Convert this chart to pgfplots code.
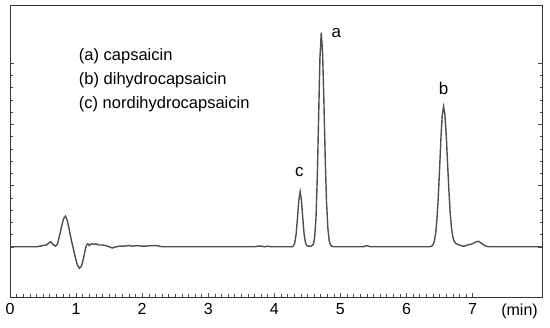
\documentclass[border=0pt]{standalone}
\usepackage{pgfplots}
\pgfplotsset{compat=1.18}
\usepackage{fontspec}
\setmainfont{Liberation Sans}
\definecolor{trace}{RGB}{78,78,78}
\definecolor{tickc}{RGB}{70,70,120}
\begin{document}
\begin{tikzpicture}
\begin{axis}[
    width=532pt, height=292pt, scale only axis,
    xmin=0, xmax=8.05, ymin=-0.82, ymax=3.95,
    axis line style={draw=black!80, line width=0.6pt},
    xtick={0,...,7}, minor x tick num=9,
    ytick={0,1,2,3}, yticklabels={}, minor y tick num=4,
    xtick pos=bottom, ytick pos=both,
    tick align=inside,
    major tick length=4pt, minor tick length=2.5pt,
    every tick/.style={tickc, line width=0.5pt},
    extra x ticks={7.71}, extra x tick labels={(min)},
    extra x tick style={major tick length=0pt},
    /pgf/number format/assume math mode=true,
    xticklabel style={font=\fontsize{16}{19}\selectfont, yshift=-3pt},
    clip=false,
]
\addplot[trace, line width=1.4pt] coordinates {
(0.00,0) (0.40,0) (0.45,0.01) (0.50,0.02) (0.55,0.03) (0.60,0.07) (0.62,0.08)
(0.65,0.04) (0.69,0.01) (0.72,0.05) (0.75,0.18) (0.78,0.33) (0.81,0.46)
(0.84,0.50) (0.87,0.42) (0.90,0.26) (0.93,0.10) (0.96,-0.04) (0.99,-0.18)
(1.02,-0.30) (1.05,-0.35) (1.08,-0.32) (1.11,-0.20) (1.14,-0.04) (1.16,0.03)
(1.18,0.05) (1.20,0.02) (1.23,0.05) (1.27,0.04) (1.30,0.05) (1.34,0.03)
(1.40,0.03) (1.45,0.02) (1.50,0.00) (1.55,-0.02) (1.60,0.00) (1.66,0.01)
(1.72,0.01) (1.80,0.02) (1.86,0.01) (1.92,0.02) (2.00,0.01) (2.05,0.01)
(2.15,0.02) (2.22,0.02) (2.30,0.00) (3.00,0) (3.70,0.00) (3.75,0.01)
(3.80,0.01) (3.85,0.00) (3.90,0.01) (3.95,0.00) (4.27,0.00)
(4.29,0.015) (4.31,0.07) (4.33,0.21) (4.35,0.47) (4.37,0.76) (4.39,0.90)
(4.41,0.76) (4.43,0.47) (4.45,0.21) (4.47,0.07) (4.49,0.02) (4.51,0.01)
(4.55,0.01) (4.57,0.02) (4.59,0.04) (4.61,0.15) (4.63,0.47) (4.65,1.14)
(4.67,2.12) (4.69,3.09) (4.71,3.50) (4.73,3.17) (4.75,2.36) (4.77,1.44)
(4.79,0.72) (4.81,0.30) (4.83,0.10) (4.85,0.03) (4.87,0.01) (4.90,0.00)
(5.35,0.00) (5.40,0.02) (5.45,0.00) (6.35,0.00)
(6.38,0.01) (6.40,0.03) (6.42,0.09) (6.44,0.21) (6.46,0.44) (6.48,0.80)
(6.50,1.26) (6.52,1.76) (6.54,2.14) (6.56,2.29) (6.58,2.17) (6.60,1.84)
(6.62,1.39) (6.64,0.94) (6.66,0.57) (6.68,0.31) (6.70,0.17) (6.72,0.09)
(6.75,0.05) (6.80,0.03) (6.85,0.01) (6.88,0.01) (6.92,0.03) (6.96,0.04)
(7.00,0.05) (7.05,0.08) (7.09,0.09) (7.13,0.06) (7.18,0.02) (7.24,0.00)
(8.05,0)
};
\node[font=\fontsize{17}{20}\selectfont] at (axis cs:4.94,3.50) {a};
\node[font=\fontsize{17}{20}\selectfont] at (axis cs:6.56,2.58) {b};
\node[font=\fontsize{17}{20}\selectfont] at (axis cs:4.38,1.22) {c};
\node[font=\fontsize{16.5}{19}\selectfont, anchor=west, align=left, inner sep=0pt]
  at (axis cs:1.04,2.72) {(a) capsaicin\\[5pt](b) dihydrocapsaicin\\[5pt](c) nordihydrocapsaicin};
\end{axis}
\path ([xshift=-10pt,yshift=-31pt]current axis.south west) rectangle ([xshift=8pt,yshift=5pt]current axis.north east);
\end{tikzpicture}
\end{document}
